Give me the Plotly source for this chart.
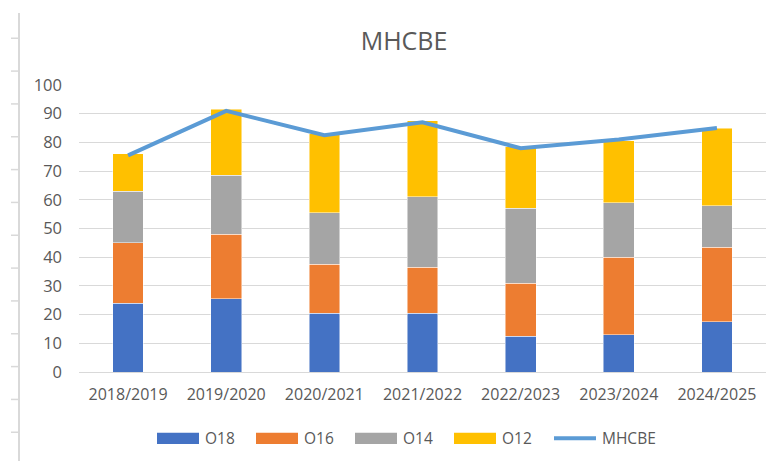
import plotly.graph_objects as go

categories = ["2018/2019", "2019/2020", "2020/2021", "2021/2022", "2022/2023", "2023/2024", "2024/2025"]
o18 = [24, 25.5, 20.5, 20.5, 12.5, 13, 17.5]
o16 = [21, 22.5, 17, 16, 18.5, 27, 26]
o14 = [18, 20.5, 18, 24.5, 26, 19, 14.5]
o12 = [13, 23, 27.5, 26.5, 21.5, 21.5, 27]
mhcbe = [75.5, 91, 82.5, 87, 78, 81, 85]

series_names = ["O18", "O16", "O14", "O12"]
series_vals = [o18, o16, o14, o12]
colors = ["#4472C4", "#ED7D31", "#A5A5A5", "#FFC000"]
line_color = "#5B9BD5"
text_color = "#595959"
font_family = "Open Sans"

OFF = 8  # page body margin offset
W, H = 780 - OFF, 461 - OFF
L, R, T, B = 79 - OFF, 766 - OFF, 85 - OFF, 371.7 - OFF

fig = go.Figure()
for name, vals, col in zip(series_names, series_vals, colors):
    fig.add_trace(go.Bar(x=categories, y=vals, name=name, marker_color=col,
                         marker_line_color="rgba(255,255,255,0.6)", marker_line_width=0.8,
                         showlegend=False))
fig.add_trace(go.Scatter(x=categories, y=mhcbe, name="MHCBE", mode="lines",
                         line=dict(color=line_color, width=4), showlegend=False))

def px_x(p):
    return (p - OFF - L) / (R - L)

def px_y(p):
    return (B - (p - OFF)) / (B - T)

shapes = []
annotations = []
# custom legend (wide swatches like the reference)
leg_y = 438
leg_items = [("O18", colors[0], 157, "bar"), ("O16", colors[1], 256, "bar"),
             ("O14", colors[2], 355, "bar"), ("O12", colors[3], 454, "bar"),
             ("MHCBE", line_color, 554, "line")]
for name, col, x0, kind in leg_items:
    if kind == "bar":
        shapes.append(dict(type="rect", xref="paper", yref="paper",
                           x0=px_x(x0), x1=px_x(x0 + 42), y0=px_y(leg_y + 5.5), y1=px_y(leg_y - 5.5),
                           fillcolor=col, line=dict(width=0)))
    else:
        shapes.append(dict(type="line", xref="paper", yref="paper",
                           x0=px_x(x0), x1=px_x(x0 + 42), y0=px_y(leg_y), y1=px_y(leg_y),
                           line=dict(color=col, width=4)))
    annotations.append(dict(text=name, xref="paper", yref="paper", x=px_x(x0 + 46), y=px_y(leg_y),
                            xanchor="left", yanchor="middle", showarrow=False,
                            font=dict(family=font_family, size=15.5, color=text_color)))

# left ruler decoration
shapes.append(dict(type="line", xref="paper", yref="paper", x0=px_x(19), x1=px_x(19),
                   y0=px_y(13), y1=px_y(461), line=dict(color="#D9D9D9", width=2)))
for i in range(13):
    ty = 38.3 + i * 32.8
    shapes.append(dict(type="line", xref="paper", yref="paper", x0=px_x(11), x1=px_x(19),
                       y0=px_y(ty), y1=px_y(ty), line=dict(color="#D9D9D9", width=1.5)))

fig.update_layout(
    width=W, height=H,
    barmode="stack", bargap=0.687,
    plot_bgcolor="white", paper_bgcolor="white",
    margin=dict(l=L, r=W - R, t=T, b=H - B),
    title=dict(text="MHCBE", x=(404 - OFF) / W, xref="container", xanchor="center",
               y=1 - (41 - OFF) / H, yref="container", yanchor="middle",
               font=dict(family=font_family, size=25, color=text_color)),
    font=dict(family=font_family, color=text_color),
    shapes=shapes, annotations=annotations,
)
fig.update_yaxes(range=[0, 100], dtick=10, showgrid=True, gridcolor="#D9D9D9", gridwidth=1,
                 zeroline=False, showline=False, ticks="", ticklabelstandoff=16,
                 tickfont=dict(family=font_family, size=16.5, color=text_color))
fig.update_xaxes(showgrid=False, showline=True, linecolor="#D9D9D9", linewidth=1, ticks="",
                 ticklabelstandoff=8,
                 tickfont=dict(family=font_family, size=16, color=text_color))

fig.write_html("out.html")
